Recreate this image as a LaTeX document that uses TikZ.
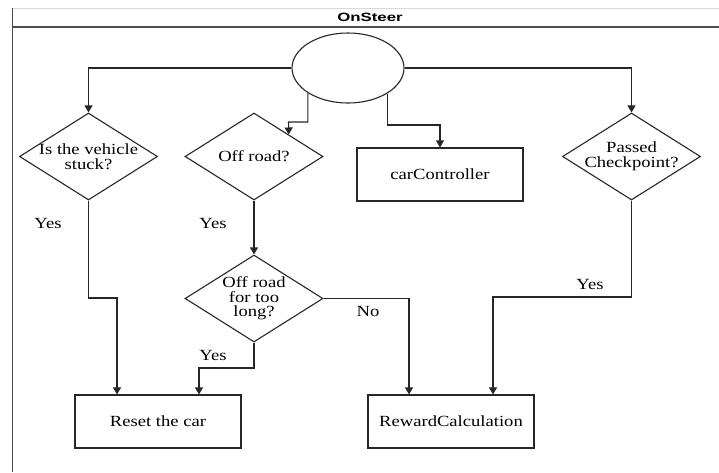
\documentclass[tikz,border=0pt]{standalone}
\usepackage{fontspec}
\setmainfont{Liberation Serif}[FakeStretch=1.2]
\newfontfamily\titlefont{Liberation Sans}[FakeStretch=1.4]
\usetikzlibrary{shapes.geometric,arrows.meta}
\begin{document}
\begin{tikzpicture}[x=1pt,y=-1pt,
  line/.style={draw=black!85, line width=1.1pt},
  arr/.style={line, -{Triangle[width=8pt,length=7pt]}},
  dec/.style={diamond, line, minimum width=138pt, minimum height=87pt, inner sep=0pt},
  box/.style={rectangle, line, minimum width=166pt, minimum height=53pt, font=\fontsize{15.5}{14.5}\selectfont},
  lbl/.style={font=\fontsize{15.5}{14.5}\selectfont, align=center, inner sep=0pt},
]
\useasboundingbox (0,0) rectangle (719,472);
\fill[white] (0,0) rectangle (719,472);
% frame
\draw[draw=black!15, line width=0.8pt] (12.5,8) -- (719,8);
\draw[draw=black!70, line width=1.2pt] (12.5,8) -- (12.5,472);
\draw[draw=black!70, line width=1.2pt] (12.5,27) -- (719,27);
\node[font=\titlefont\bfseries\fontsize{12}{14}\selectfont] (title) at (370,17) {OnSteer};
% nodes
\node[ellipse, line, minimum width=112pt, minimum height=70pt, inner sep=0pt] (c) at (348,68) {};
\node[dec, label={[lbl]center:Is the vehicle\\stuck?}] (stuck) at (88.5,156.5) {};
\node[dec, label={[lbl]center:Off road?}] (off) at (254,156.5) {};
\node[dec, label={[lbl]center:Off road\\for too\\long?}] (off2) at (254,298.5) {};
\node[dec, label={[lbl]center:Passed\\Checkpoint?}] (pass) at (631.5,156.5) {};
\node[box] (ctrl) at (440,174.5) {carController};
\node[box] (reset) at (158,421.5) {Reset the car};
\node[box] (reward) at (451,421.5) {RewardCalculation};
% connectors
\draw[arr] (c.west) -| (stuck.north);
\draw[arr] (c.east) -| (pass.north);
\coordinate (k1) at (288.5,122);
\draw[arr] (c.212.7) |- (k1) -- (off.north east);
\coordinate (k2) at (440,125);
\draw[arr] (c.327.3) |- (k2) -- (ctrl.north);
\draw[arr] (off.south) -- (off2.north);
\coordinate (k3) at (117,298);
\draw[arr] (stuck.south) |- (k3) -- (k3 |- reset.north);
\coordinate (k4) at (199,368);
\draw[arr] (off2.south) |- (k4) -- (k4 |- reset.north);
\draw[arr] (off2.east) -| ([xshift=-42pt]reward.north);
\coordinate (k6) at (493,297);
\draw[arr] (pass.south) |- (k6) -- (k6 |- reward.north);
% labels
\node[lbl] (y1) at (48,223) {Yes};
\node[lbl] (y2) at (213,223) {Yes};
\node[lbl] (y3) at (213,355) {Yes};
\node[lbl] (y4) at (590,284) {Yes};
\node[lbl] (n1) at (368,311) {No};
\end{tikzpicture}
\end{document}
